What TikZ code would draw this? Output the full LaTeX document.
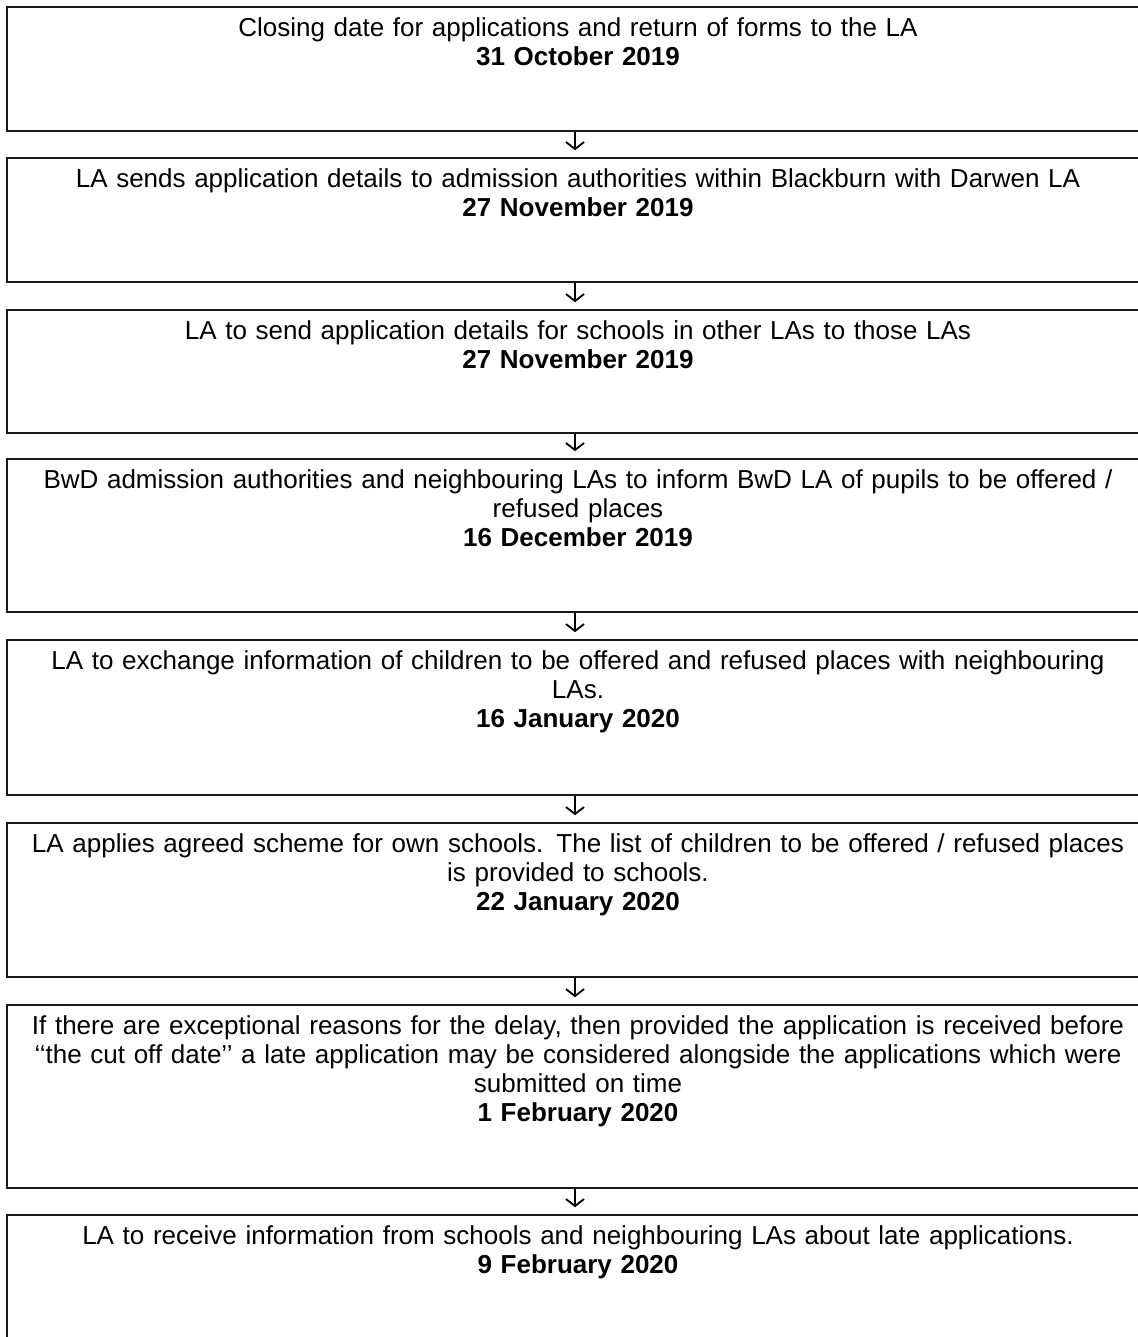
\documentclass[tikz,border=0pt]{standalone}
\usepackage{fontspec}
\setmainfont{Liberation Sans}
\usetikzlibrary{arrows.meta}
\tikzset{
  box/.style={draw=black!90, line width=1.6pt, rectangle, minimum width=1142pt, inner sep=0pt},
  txt/.style={anchor=north, text width=1130pt, align=center, inner sep=0pt, font=\fontsize{26}{29}\selectfont},
  arr/.style={line width=1.8pt, -{Straight Barb[length=7pt,width=18pt]}, shorten >=7pt}
}
\begin{document}
\begin{tikzpicture}[x=1pt,y=-1pt]
\useasboundingbox (0,0) rectangle (1137,1337);
\node[box, minimum height=124pt] (b1) at (578,69) {};
\node[box, minimum height=124pt] (b2) at (578,220) {};
\node[box, minimum height=123pt] (b3) at (578,371.5) {};
\node[box, minimum height=153pt] (b4) at (578,535.5) {};
\node[box, minimum height=155pt] (b5) at (578,717.5) {};
\node[box, minimum height=154pt] (b6) at (578,900) {};
\node[box, minimum height=183pt] (b7) at (578,1096.5) {};
\node[box, minimum height=124pt] (b8) at (578,1277) {};

\node[txt] (t1) at ([yshift=-11pt]b1.north) {Closing date for applications and return of forms to the LA\\\textbf{31 October 2019}};
\node[txt] (t2) at ([yshift=-11pt]b2.north) {LA sends application details to admission authorities within Blackburn with Darwen LA\\\textbf{27 November 2019}};
\node[txt] (t3) at ([yshift=-11pt]b3.north) {LA to send application details for schools in other LAs to those LAs\\\textbf{27 November 2019}};
\node[txt] (t4) at ([yshift=-11pt]b4.north) {BwD admission authorities and neighbouring LAs to inform BwD LA of pupils to be offered /\\refused places\\\textbf{16 December 2019}};
\node[txt] (t5) at ([yshift=-11pt]b5.north) {LA to exchange information of children to be offered and refused places with neighbouring\\LAs.\\\textbf{16 January 2020}};
\node[txt] (t6) at ([yshift=-11pt]b6.north) {LA applies agreed scheme for own schools. The list of children to be offered / refused places\\is provided to schools.\\\textbf{22 January 2020}};
\node[txt] (t7) at ([yshift=-11pt]b7.north) {If there are exceptional reasons for the delay, then provided the application is received before\\‘‘the cut off date’’ a late application may be considered alongside the applications which were\\submitted on time\\\textbf{1 February 2020}};
\node[txt] (t8) at ([yshift=-11pt]b8.north) {LA to receive information from schools and neighbouring LAs about late applications.\\\textbf{9 February 2020}};

\foreach \a/\b in {b1/b2,b2/b3,b3/b4,b4/b5,b5/b6,b6/b7,b7/b8}
  \draw[arr] ([xshift=-3pt]\a.south) -- ([xshift=-3pt]\b.north);
\end{tikzpicture}
\end{document}
